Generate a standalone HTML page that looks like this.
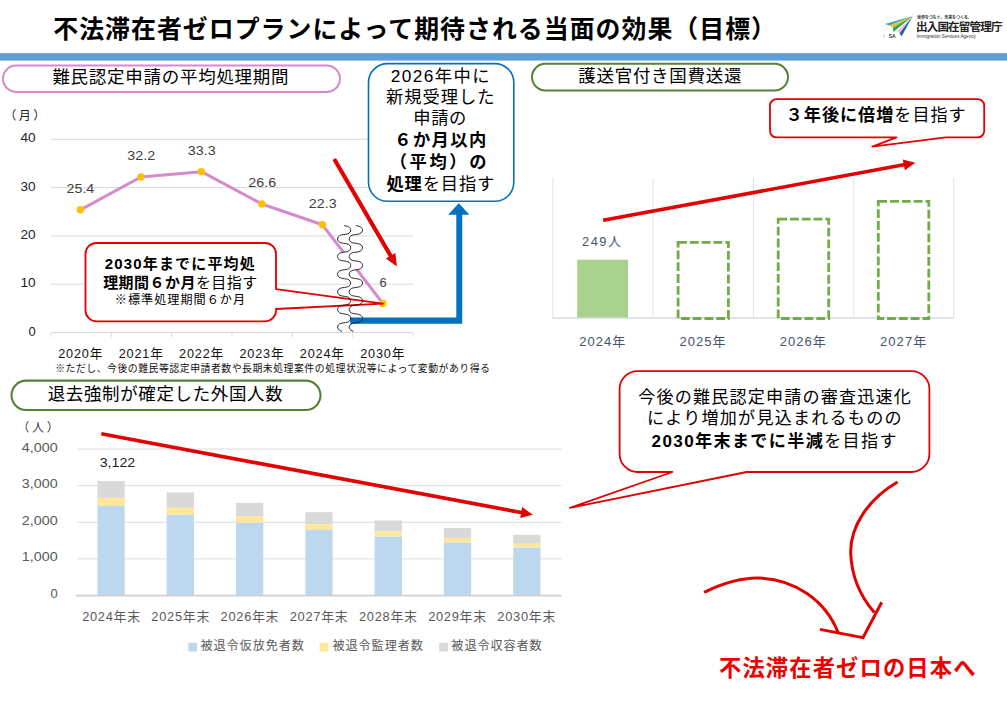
<!DOCTYPE html>
<html lang="ja">
<head>
<meta charset="utf-8">
<title>不法滞在者ゼロプランによって期待される当面の効果（目標）</title>
<style>
html,body{margin:0;padding:0;background:#fff}
body{width:1007px;height:711px;position:relative;overflow:hidden;font-family:"Liberation Sans","Noto Sans CJK JP",sans-serif}
svg{position:absolute;left:0;top:0;display:block}
svg text{font-family:"Liberation Sans","Noto Sans CJK JP",sans-serif}
.t{position:absolute;margin:0;padding:0;line-height:1;white-space:nowrap;overflow:visible;color:#000;font-family:"Liberation Sans","Noto Sans CJK JP",sans-serif}
.t b{font-weight:bold}
</style>
</head>
<body>
<svg width="1007" height="711" viewBox="0 0 1007 711">
<!-- shapes -->
<rect x="0" y="53.2" width="1007" height="7.4" fill="#5f9fd8"/>
<rect x="3" y="65.6" width="337" height="26.3" rx="13.15" ry="13.15" fill="#fff" stroke="#d68acb" stroke-width="2"/>
<rect x="532" y="63.8" width="256" height="26.6" rx="13.3" ry="13.3" fill="#fff" stroke="#548235" stroke-width="2"/>
<rect x="11.5" y="380.6" width="309" height="29.4" rx="14.7" ry="14.7" fill="#fff" stroke="#548235" stroke-width="2.1"/>
<path d="M51 139.3 H413" stroke="#d9d9d9" stroke-width="1" fill="none"/>
<path d="M51 187.6 H413" stroke="#d9d9d9" stroke-width="1" fill="none"/>
<path d="M51 235.9 H413" stroke="#d9d9d9" stroke-width="1" fill="none"/>
<path d="M51 284.2 H413" stroke="#d9d9d9" stroke-width="1" fill="none"/>
<path d="M51 332.5H413M50.9 332.5v4.5M111.26 332.5v4.5M171.62 332.5v4.5M231.98 332.5v4.5M292.34 332.5v4.5M352.7 332.5v4.5M413.06 332.5v4.5" stroke="#d9d9d9" stroke-width="1" fill="none"/>
<polyline points="80.4,209.82 140.9,176.97 201.4,171.66 261.9,204.02 322.4,224.79 382.9,303.52" fill="none" stroke="#d68acb" stroke-width="3" stroke-linejoin="round"/>
<circle cx="80.4" cy="209.82" r="3.7" fill="#ffc000"/>
<circle cx="140.9" cy="176.97" r="3.7" fill="#ffc000"/>
<circle cx="201.4" cy="171.66" r="3.7" fill="#ffc000"/>
<circle cx="261.9" cy="204.02" r="3.7" fill="#ffc000"/>
<circle cx="322.4" cy="224.79" r="3.7" fill="#ffc000"/>
<circle cx="382.9" cy="303.52" r="3.7" fill="#ffc000"/>
<polygon points="344.17,225.69 345.79,225.92 347.3,226.26 348.62,226.8 349.66,227.59 350.36,228.6 350.68,229.75 350.6,230.94 350.12,232.05 349.27,232.97 348.11,233.66 346.7,234.11 345.13,234.39 343.51,234.6 341.92,234.85 340.47,235.26 339.25,235.9 338.33,236.77 337.77,237.85 337.6,239.03 337.84,240.2 338.46,241.25 339.44,242.08 340.71,242.68 342.18,243.06 343.78,243.29 345.41,243.51 346.95,243.81 348.32,244.3 349.44,245.03 350.23,245.99 350.64,247.12 350.66,248.31 350.27,249.44 349.5,250.42 348.41,251.16 347.05,251.67 345.51,251.98 343.89,252.2 342.29,252.43 340.8,252.79 339.52,253.37 338.52,254.19 337.87,255.23 337.6,256.39 337.75,257.58 338.28,258.66 339.18,259.56 340.38,260.21 341.82,260.63 343.4,260.89 345.02,261.1 346.6,261.37 348.02,261.81 349.2,262.48 350.07,263.39 350.58,264.49 350.69,265.68 350.4,266.84 349.72,267.86 348.7,268.66 347.39,269.22 345.89,269.57 344.28,269.8 342.67,270.02 341.14,270.34 339.8,270.86 338.73,271.63 337.99,272.62 337.63,273.76 337.68,274.95 338.12,276.07 338.93,277.02 340.07,277.73 341.46,278.2 343.01,278.49 344.64,278.7 346.23,278.95 347.7,279.34 348.95,279.95 349.9,280.8 350.49,281.86 350.7,283.04 350.5,284.22 349.91,285.28 348.97,286.14 347.73,286.76 346.26,287.15 344.67,287.4 343.05,287.61 341.49,287.9 340.1,288.37 338.95,289.07 338.13,290.01 337.68,291.13 337.63,292.32 337.98,293.47 338.71,294.46 339.77,295.23 341.11,295.76 342.63,296.08 344.25,296.3 345.86,296.53 347.37,296.88 348.67,297.43 349.7,298.23 350.39,299.25 350.69,300.41 350.59,301.59 350.09,302.69 349.22,303.61 348.05,304.28 346.63,304.73 345.06,305 343.43,305.21 341.85,305.47 340.41,305.89 339.2,306.53 338.3,307.42 337.75,308.5 337.6,309.69 337.86,310.85 338.5,311.89 339.49,312.72 340.77,313.3 342.26,313.67 343.86,313.9 345.48,314.12 347.02,314.43 348.38,314.93 349.48,315.67 350.26,316.64 350.65,317.77 350.65,318.96 350.24,320.09 349.46,321.06 348.35,321.79 346.98,322.29 345.44,322.59 343.82,322.81 342.22,323.04 340.73,323.42 339.46,324.01 338.48,324.84 337.85,325.88 337.6,327.05 337.76,328.23 338.31,329.31 339.23,330.19 340.44,330.83 341.89,331.25 353.55,331.25 352.09,330.83 350.85,330.19 349.93,329.31 349.36,328.23 349.2,327.05 349.45,325.88 350.09,324.84 351.09,324.01 352.38,323.42 353.89,323.04 355.51,322.81 357.16,322.59 358.73,322.29 360.11,321.79 361.24,321.06 362.03,320.09 362.45,318.96 362.45,317.77 362.05,316.64 361.27,315.67 360.15,314.93 358.77,314.43 357.2,314.12 355.56,313.9 353.93,313.67 352.42,313.3 351.12,312.72 350.12,311.89 349.46,310.85 349.2,309.69 349.35,308.5 349.91,307.42 350.82,306.53 352.05,305.89 353.51,305.47 355.12,305.21 356.77,305 358.37,304.73 359.8,304.28 361,303.61 361.88,302.69 362.38,301.59 362.49,300.41 362.18,299.25 361.48,298.23 360.44,297.43 359.11,296.88 357.59,296.53 355.95,296.3 354.31,296.08 352.76,295.76 351.41,295.23 350.32,294.46 349.58,293.47 349.23,292.32 349.28,291.13 349.74,290.01 350.57,289.07 351.73,288.37 353.15,287.9 354.73,287.61 356.38,287.4 358,287.15 359.48,286.76 360.74,286.14 361.7,285.28 362.3,284.22 362.5,283.04 362.29,281.86 361.68,280.8 360.72,279.95 359.45,279.34 357.96,278.95 356.35,278.7 354.7,278.49 353.12,278.2 351.71,277.73 350.55,277.02 349.73,276.07 349.28,274.95 349.23,273.76 349.59,272.62 350.34,271.63 351.43,270.86 352.79,270.34 354.34,270.02 355.98,269.8 357.62,269.57 359.14,269.22 360.47,268.66 361.5,267.86 362.19,266.84 362.49,265.68 362.38,264.49 361.86,263.39 360.98,262.48 359.78,261.81 358.33,261.37 356.74,261.1 355.09,260.89 353.48,260.63 352.02,260.21 350.8,259.56 349.89,258.66 349.35,257.58 349.2,256.39 349.47,255.23 350.13,254.19 351.15,253.37 352.45,252.79 353.96,252.43 355.59,252.2 357.24,251.98 358.8,251.67 360.17,251.16 361.29,250.42 362.06,249.44 362.46,248.31 362.44,247.12 362.02,245.99 361.22,245.03 360.09,244.3 358.7,243.81 357.13,243.51 355.48,243.29 353.85,243.06 352.35,242.68 351.07,242.08 350.08,241.25 349.44,240.2 349.2,239.03 349.37,237.85 349.94,236.77 350.87,235.9 352.12,235.26 353.59,234.85 355.2,234.6 356.85,234.39 358.44,234.11 359.87,233.66 361.05,232.97 361.91,232.05 362.4,230.94 362.48,229.75 362.16,228.6 361.44,227.59 360.38,226.8 359.05,226.26 357.51,225.92 355.87,225.69" fill="#fff"/>
<path d="M350.2 317.6H456.3V214.8H448.1L458.8 203.3L469.4 214.8H462.2V323.7H350.2Z" fill="#0070c0"/>
<path d="M96.5 243H265A11 11 0 0 1 276 254V289.2L383 303.6L276 309V310.4A11 11 0 0 1 265 321.4H96.5A11 11 0 0 1 85.5 310.4V254A11 11 0 0 1 96.5 243Z" fill="#fff" stroke="#e30000" stroke-width="1.8" stroke-linejoin="round"/>
<polyline points="344.17,225.69 345.79,225.92 347.3,226.26 348.62,226.8 349.66,227.59 350.36,228.6 350.68,229.75 350.6,230.94 350.12,232.05 349.27,232.97 348.11,233.66 346.7,234.11 345.13,234.39 343.51,234.6 341.92,234.85 340.47,235.26 339.25,235.9 338.33,236.77 337.77,237.85 337.6,239.03 337.84,240.2 338.46,241.25 339.44,242.08 340.71,242.68 342.18,243.06 343.78,243.29 345.41,243.51 346.95,243.81 348.32,244.3 349.44,245.03 350.23,245.99 350.64,247.12 350.66,248.31 350.27,249.44 349.5,250.42 348.41,251.16 347.05,251.67 345.51,251.98 343.89,252.2 342.29,252.43 340.8,252.79 339.52,253.37 338.52,254.19 337.87,255.23 337.6,256.39 337.75,257.58 338.28,258.66 339.18,259.56 340.38,260.21 341.82,260.63 343.4,260.89 345.02,261.1 346.6,261.37 348.02,261.81 349.2,262.48 350.07,263.39 350.58,264.49 350.69,265.68 350.4,266.84 349.72,267.86 348.7,268.66 347.39,269.22 345.89,269.57 344.28,269.8 342.67,270.02 341.14,270.34 339.8,270.86 338.73,271.63 337.99,272.62 337.63,273.76 337.68,274.95 338.12,276.07 338.93,277.02 340.07,277.73 341.46,278.2 343.01,278.49 344.64,278.7 346.23,278.95 347.7,279.34 348.95,279.95 349.9,280.8 350.49,281.86 350.7,283.04 350.5,284.22 349.91,285.28 348.97,286.14 347.73,286.76 346.26,287.15 344.67,287.4 343.05,287.61 341.49,287.9 340.1,288.37 338.95,289.07 338.13,290.01 337.68,291.13 337.63,292.32 337.98,293.47 338.71,294.46 339.77,295.23 341.11,295.76 342.63,296.08 344.25,296.3 345.86,296.53 347.37,296.88 348.67,297.43 349.7,298.23 350.39,299.25 350.69,300.41 350.59,301.59 350.09,302.69 349.22,303.61 348.05,304.28 346.63,304.73 345.06,305 343.43,305.21 341.85,305.47 340.41,305.89 339.2,306.53 338.3,307.42 337.75,308.5 337.6,309.69 337.86,310.85 338.5,311.89 339.49,312.72 340.77,313.3 342.26,313.67 343.86,313.9 345.48,314.12 347.02,314.43 348.38,314.93 349.48,315.67 350.26,316.64 350.65,317.77 350.65,318.96 350.24,320.09 349.46,321.06 348.35,321.79 346.98,322.29 345.44,322.59 343.82,322.81 342.22,323.04 340.73,323.42 339.46,324.01 338.48,324.84 337.85,325.88 337.6,327.05 337.76,328.23 338.31,329.31 339.23,330.19 340.44,330.83 341.89,331.25" fill="none" stroke="#111" stroke-width="0.9"/>
<polyline points="355.87,225.69 357.51,225.92 359.05,226.26 360.38,226.8 361.44,227.59 362.16,228.6 362.48,229.75 362.4,230.94 361.91,232.05 361.05,232.97 359.87,233.66 358.44,234.11 356.85,234.39 355.2,234.6 353.59,234.85 352.12,235.26 350.87,235.9 349.94,236.77 349.37,237.85 349.2,239.03 349.44,240.2 350.08,241.25 351.07,242.08 352.35,242.68 353.85,243.06 355.48,243.29 357.13,243.51 358.7,243.81 360.09,244.3 361.22,245.03 362.02,245.99 362.44,247.12 362.46,248.31 362.06,249.44 361.29,250.42 360.17,251.16 358.8,251.67 357.24,251.98 355.59,252.2 353.96,252.43 352.45,252.79 351.15,253.37 350.13,254.19 349.47,255.23 349.2,256.39 349.35,257.58 349.89,258.66 350.8,259.56 352.02,260.21 353.48,260.63 355.09,260.89 356.74,261.1 358.33,261.37 359.78,261.81 360.98,262.48 361.86,263.39 362.38,264.49 362.49,265.68 362.19,266.84 361.5,267.86 360.47,268.66 359.14,269.22 357.62,269.57 355.98,269.8 354.34,270.02 352.79,270.34 351.43,270.86 350.34,271.63 349.59,272.62 349.23,273.76 349.28,274.95 349.73,276.07 350.55,277.02 351.71,277.73 353.12,278.2 354.7,278.49 356.35,278.7 357.96,278.95 359.45,279.34 360.72,279.95 361.68,280.8 362.29,281.86 362.5,283.04 362.3,284.22 361.7,285.28 360.74,286.14 359.48,286.76 358,287.15 356.38,287.4 354.73,287.61 353.15,287.9 351.73,288.37 350.57,289.07 349.74,290.01 349.28,291.13 349.23,292.32 349.58,293.47 350.32,294.46 351.41,295.23 352.76,295.76 354.31,296.08 355.95,296.3 357.59,296.53 359.11,296.88 360.44,297.43 361.48,298.23 362.18,299.25 362.49,300.41 362.38,301.59 361.88,302.69 361,303.61 359.8,304.28 358.37,304.73 356.77,305 355.12,305.21 353.51,305.47 352.05,305.89 350.82,306.53 349.91,307.42 349.35,308.5 349.2,309.69 349.46,310.85 350.12,311.89 351.12,312.72 352.42,313.3 353.93,313.67 355.56,313.9 357.2,314.12 358.77,314.43 360.15,314.93 361.27,315.67 362.05,316.64 362.45,317.77 362.45,318.96 362.03,320.09 361.24,321.06 360.11,321.79 358.73,322.29 357.16,322.59 355.51,322.81 353.89,323.04 352.38,323.42 351.09,324.01 350.09,324.84 349.45,325.88 349.2,327.05 349.36,328.23 349.93,329.31 350.85,330.19 352.09,330.83 353.55,331.25" fill="none" stroke="#111" stroke-width="0.9"/>
<polygon points="332.43,160.03 388.84,256.83 385.85,258.57 396.9,266.6 395.36,253.03 392.38,254.77 335.97,157.97" fill="#e30000"/>
<rect x="368.5" y="63.6" width="145.3" height="137.7" rx="19" ry="19" fill="#fff" stroke="#0070c0" stroke-width="1.6"/>
<path d="M552.8 178V318" stroke="#dfe3e8" stroke-width="1" fill="none"/>
<path d="M653 178V318" stroke="#dfe3e8" stroke-width="1" fill="none"/>
<path d="M753.4 178V318" stroke="#dfe3e8" stroke-width="1" fill="none"/>
<path d="M853.7 178V318" stroke="#dfe3e8" stroke-width="1" fill="none"/>
<path d="M953.7 178V318" stroke="#dfe3e8" stroke-width="1" fill="none"/>
<path d="M552.8 318H953.7" stroke="#d5dae1" stroke-width="1.5" fill="none"/>
<rect x="577.2" y="259.7" width="50.8" height="57.8" fill="#a9d18e"/>
<rect x="678.1" y="242.3" width="50.3" height="76.2" fill="none" stroke="#70ad47" stroke-width="2.8" stroke-dasharray="8.8 3"/>
<rect x="778.2" y="219.2" width="50.5" height="99.3" fill="none" stroke="#70ad47" stroke-width="2.8" stroke-dasharray="8.8 3"/>
<rect x="878.3" y="201.3" width="50.5" height="117.2" fill="none" stroke="#70ad47" stroke-width="2.8" stroke-dasharray="8.8 3"/>
<polygon points="603.53,222.07 904.12,166.61 904.79,170.25 915.4,162.7 902.8,159.43 903.47,163.07 602.87,218.53" fill="#e30000"/>
<path d="M776.5 99.1H977.7A6.5 6.5 0 0 1 984.2 105.6V130.9A6.5 6.5 0 0 1 977.7 137.4H945.7L872.4 146.6L896.5 137.4H776.5A6.5 6.5 0 0 1 770 130.9V105.6A6.5 6.5 0 0 1 776.5 99.1Z" fill="#fff" stroke="#e30000" stroke-width="1.8" stroke-linejoin="round"/>
<path d="M77 449.02H561.4" stroke="#dcdcdc" stroke-width="1" fill="none"/>
<path d="M77 485.64H561.4" stroke="#dcdcdc" stroke-width="1" fill="none"/>
<path d="M77 522.26H561.4" stroke="#dcdcdc" stroke-width="1" fill="none"/>
<path d="M77 558.88H561.4" stroke="#dcdcdc" stroke-width="1" fill="none"/>
<rect x="97.4" y="481" width="27.3" height="16.9" fill="#d9d9d9"/>
<rect x="97.4" y="497.9" width="27.3" height="7.9" fill="#ffe699"/>
<rect x="97.4" y="505.8" width="27.3" height="89.7" fill="#bdd7ee"/>
<rect x="166.7" y="492.4" width="27.3" height="15.4" fill="#d9d9d9"/>
<rect x="166.7" y="507.8" width="27.3" height="7" fill="#ffe699"/>
<rect x="166.7" y="514.8" width="27.3" height="80.7" fill="#bdd7ee"/>
<rect x="236" y="502.9" width="27.3" height="13.6" fill="#d9d9d9"/>
<rect x="236" y="516.5" width="27.3" height="6.4" fill="#ffe699"/>
<rect x="236" y="522.9" width="27.3" height="72.6" fill="#bdd7ee"/>
<rect x="305.3" y="512.2" width="27.3" height="12.2" fill="#d9d9d9"/>
<rect x="305.3" y="524.4" width="27.3" height="5.4" fill="#ffe699"/>
<rect x="305.3" y="529.8" width="27.3" height="65.7" fill="#bdd7ee"/>
<rect x="374.6" y="520.5" width="27.3" height="11" fill="#d9d9d9"/>
<rect x="374.6" y="531.5" width="27.3" height="5.1" fill="#ffe699"/>
<rect x="374.6" y="536.6" width="27.3" height="58.9" fill="#bdd7ee"/>
<rect x="443.9" y="528" width="27.3" height="10" fill="#d9d9d9"/>
<rect x="443.9" y="538" width="27.3" height="4.6" fill="#ffe699"/>
<rect x="443.9" y="542.6" width="27.3" height="52.9" fill="#bdd7ee"/>
<rect x="513.2" y="534.8" width="27.3" height="8.9" fill="#d9d9d9"/>
<rect x="513.2" y="543.7" width="27.3" height="3.9" fill="#ffe699"/>
<rect x="513.2" y="547.6" width="27.3" height="47.9" fill="#bdd7ee"/>
<path d="M76.2 595.6H561.4" stroke="#d0d0d0" stroke-width="1.8" fill="none"/>
<rect x="188.3" y="642.8" width="8.7" height="8.7" fill="#bdd7ee"/>
<rect x="319.6" y="642.8" width="8.7" height="8.7" fill="#ffe699"/>
<rect x="439.2" y="642.8" width="8.7" height="8.7" fill="#d9d9d9"/>
<polygon points="100.97,435.57 520.87,514.29 520.19,517.93 532.8,514.7 522.22,507.12 521.53,510.76 101.63,432.03" fill="#e30000"/>
<path d="M637.6 371.1H911.4A18 18 0 0 1 929.4 389.1V454A18 18 0 0 1 911.4 472H746.7L569.9 507.8L672.4 472H637.6A18 18 0 0 1 619.6 454V389.1A18 18 0 0 1 637.6 371.1Z" fill="#fff" stroke="#e30000" stroke-width="1.8" stroke-linejoin="round"/>
<path d="M897.6 482C868 499 850 527 850.7 553C851.5 578 861 597 874.3 612.5" fill="none" stroke="#e30000" stroke-width="3"/>
<path d="M704.1 592.4C722 583.5 740 578 757.5 578C795 578.5 826 601 838.3 633" fill="none" stroke="#e30000" stroke-width="3"/>
<path d="M881.7 602.3L863 637.6L819.9 629.4" fill="none" stroke="#e30000" stroke-width="3"/>
<g><polygon points="884.9,24.1 912.7,16 889.7,25.6" fill="#3ba3d0"/><polygon points="889.9,25.5 912.7,16 892.8,27.8" fill="#e5c02a"/><polygon points="892.8,27.8 912.7,16 893.4,32.1" fill="#2fa84f"/><polygon points="897.8,31 912.7,16 899.2,32.5" fill="#f4b6d0"/><polygon points="899.4,33.3 912.7,16 901.8,36.2" fill="#2f5fb0"/></g>
<!-- numeric labels -->
<text x="20.4" y="142.4" font-size="13" fill="#222" textLength="15.2" lengthAdjust="spacingAndGlyphs">40</text>
<text x="20.4" y="190.7" font-size="13" fill="#222" textLength="15.2" lengthAdjust="spacingAndGlyphs">30</text>
<text x="20.4" y="239" font-size="13" fill="#222" textLength="15.2" lengthAdjust="spacingAndGlyphs">20</text>
<text x="20.4" y="287.3" font-size="13" fill="#222" textLength="15.2" lengthAdjust="spacingAndGlyphs">10</text>
<text x="28.4" y="335.6" font-size="13" fill="#222" textLength="7.2" lengthAdjust="spacingAndGlyphs">0</text>
<text x="66.5" y="192.92" font-size="13.2" fill="#404040" textLength="27.8" lengthAdjust="spacingAndGlyphs">25.4</text>
<text x="127.3" y="160.07" font-size="13.2" fill="#404040" textLength="27.8" lengthAdjust="spacingAndGlyphs">32.2</text>
<text x="187.8" y="154.76" font-size="13.2" fill="#404040" textLength="27.8" lengthAdjust="spacingAndGlyphs">33.3</text>
<text x="248.3" y="187.12" font-size="13.2" fill="#404040" textLength="27.8" lengthAdjust="spacingAndGlyphs">26.6</text>
<text x="308.8" y="207.89" font-size="13.2" fill="#404040" textLength="27.8" lengthAdjust="spacingAndGlyphs">22.3</text>
<text x="379.6" y="286.62" font-size="13.2" fill="#404040" textLength="7.2" lengthAdjust="spacingAndGlyphs">6</text>
<text x="21.8" y="451.62" font-size="13.2" fill="#595959" textLength="35.9" lengthAdjust="spacingAndGlyphs">4,000</text>
<text x="21.8" y="488.24" font-size="13.2" fill="#595959" textLength="35.9" lengthAdjust="spacingAndGlyphs">3,000</text>
<text x="21.8" y="524.86" font-size="13.2" fill="#595959" textLength="35.9" lengthAdjust="spacingAndGlyphs">2,000</text>
<text x="21.8" y="561.48" font-size="13.2" fill="#595959" textLength="35.9" lengthAdjust="spacingAndGlyphs">1,000</text>
<text x="50.5" y="598.1" font-size="13.2" fill="#595959" textLength="7.2" lengthAdjust="spacingAndGlyphs">0</text>
<text x="99.7" y="467.2" font-size="13.4" fill="#222" textLength="35.6" lengthAdjust="spacingAndGlyphs">3,122</text>
</svg>
<!-- text layer -->
<div class="t" style="left:53.24px;top:17.1px;font-size:24.9px;width:725.94px;letter-spacing:1.03px;color:#000"><b>不法滞在者ゼロプランによって期待される当面の効果（目標）</b></div>
<div class="t" style="left:52.4px;top:69.35px;font-size:17.47px;width:237.13px;letter-spacing:0.77px;color:#000">難民認定申請の平均処理期間</div>
<div class="t" style="left:578.31px;top:67.65px;font-size:17.47px;width:163.98px;letter-spacing:0.75px;color:#000">護送官付き国費送還</div>
<div class="t" style="left:47.75px;top:385.65px;font-size:17.47px;width:235.8px;letter-spacing:0.67px;color:#000">退去強制が確定した外国人数</div>
<div class="t" style="left:4.24px;top:110.36px;font-size:12.1px;width:43.42px;letter-spacing:2.37px;color:#222">（月）</div>
<div class="t" style="left:17.18px;top:421.56px;font-size:12.1px;width:44.53px;letter-spacing:2.74px;color:#404040">（人）</div>
<div class="t" style="left:58.24px;top:347.85px;font-size:12.67px;width:45px;letter-spacing:0.84px;color:#111">2020年</div>
<div class="t" style="left:118.64px;top:347.85px;font-size:12.67px;width:45px;letter-spacing:0.84px;color:#111">2021年</div>
<div class="t" style="left:179.04px;top:347.85px;font-size:12.67px;width:45px;letter-spacing:0.84px;color:#111">2022年</div>
<div class="t" style="left:239.44px;top:347.85px;font-size:12.67px;width:45px;letter-spacing:0.84px;color:#111">2023年</div>
<div class="t" style="left:299.84px;top:347.85px;font-size:12.67px;width:45px;letter-spacing:0.84px;color:#111">2024年</div>
<div class="t" style="left:360.24px;top:347.85px;font-size:12.67px;width:45px;letter-spacing:0.84px;color:#111">2030年</div>
<div class="t" style="left:55.14px;top:364.44px;font-size:9.89px;width:436.65px;letter-spacing:0.51px;color:#111">※ただし、今後の難民等認定申請者数や長期未処理案件の処理状況等によって変動があり得る</div>
<div class="t" style="left:104.73px;top:255.88px;font-size:14.98px;width:151.34px;letter-spacing:1.19px;color:#000"><b>2030年までに平均処</b></div>
<div class="t" style="left:103.13px;top:274.88px;font-size:14.98px;width:154.67px;letter-spacing:0.49px;color:#000"><b>理期間６か月</b>を目指す</div>
<div class="t" style="left:114.86px;top:294.36px;font-size:12.1px;width:131.29px;letter-spacing:1.03px;color:#000">※標準処理期間６か月</div>
<div class="t" style="left:390.83px;top:67.51px;font-size:17.28px;width:100.1px;letter-spacing:1.4px;color:#000">2026年中に</div>
<div class="t" style="left:385.99px;top:89.34px;font-size:17.28px;width:109.69px;letter-spacing:1px;color:#000">新規受理した</div>
<div class="t" style="left:413.29px;top:110.43px;font-size:17.28px;width:53.76px;letter-spacing:0.64px;color:#000">申請の</div>
<div class="t" style="left:394.23px;top:132.4px;font-size:17.28px;width:93.46px;letter-spacing:1.41px;color:#000"><b>６か月以内</b></div>
<div class="t" style="left:389.71px;top:154.27px;font-size:17.28px;width:99.44px;letter-spacing:2.61px;color:#000"><b>（平均）の</b></div>
<div class="t" style="left:386.39px;top:175.53px;font-size:17.28px;width:108.9px;letter-spacing:0.87px;color:#000"><b>処理</b>を目指す</div>
<div class="t" style="left:785.7px;top:107.29px;font-size:17.09px;width:181.09px;letter-spacing:1.02px;color:#000"><b>３年後に倍増</b>を目指す</div>
<div class="t" style="left:581.99px;top:235.78px;font-size:12.86px;width:40.31px;letter-spacing:1.5px;color:#44546a">249人</div>
<div class="t" style="left:579.22px;top:334.9px;font-size:13.06px;width:47.06px;letter-spacing:1px;color:#44546a">2024年</div>
<div class="t" style="left:679.52px;top:334.9px;font-size:13.06px;width:47.06px;letter-spacing:1px;color:#44546a">2025年</div>
<div class="t" style="left:779.82px;top:334.9px;font-size:13.06px;width:47.06px;letter-spacing:1px;color:#44546a">2026年</div>
<div class="t" style="left:880.12px;top:334.9px;font-size:13.06px;width:47.06px;letter-spacing:1px;color:#44546a">2027年</div>
<div class="t" style="left:82.14px;top:610.88px;font-size:12.86px;width:58.61px;letter-spacing:0.72px;color:#595959">2024年末</div>
<div class="t" style="left:151.34px;top:610.88px;font-size:12.86px;width:58.61px;letter-spacing:0.72px;color:#595959">2025年末</div>
<div class="t" style="left:220.54px;top:610.88px;font-size:12.86px;width:58.61px;letter-spacing:0.72px;color:#595959">2026年末</div>
<div class="t" style="left:289.74px;top:610.88px;font-size:12.86px;width:58.61px;letter-spacing:0.72px;color:#595959">2027年末</div>
<div class="t" style="left:358.94px;top:610.88px;font-size:12.86px;width:58.61px;letter-spacing:0.72px;color:#595959">2028年末</div>
<div class="t" style="left:428.14px;top:610.88px;font-size:12.86px;width:58.61px;letter-spacing:0.72px;color:#595959">2029年末</div>
<div class="t" style="left:497.34px;top:610.88px;font-size:12.86px;width:58.61px;letter-spacing:0.72px;color:#595959">2030年末</div>
<div class="t" style="left:200.47px;top:640.16px;font-size:12.1px;width:104.42px;letter-spacing:0.95px;color:#595959">被退令仮放免者数</div>
<div class="t" style="left:332.47px;top:640.16px;font-size:12.1px;width:91.32px;letter-spacing:0.95px;color:#595959">被退令監理者数</div>
<div class="t" style="left:451.37px;top:640.16px;font-size:12.1px;width:91.32px;letter-spacing:0.95px;color:#595959">被退令収容者数</div>
<div class="t" style="left:638.16px;top:389.21px;font-size:17.09px;width:273.94px;letter-spacing:1.17px;color:#000">今後の難民認定申請の審査迅速化</div>
<div class="t" style="left:647.03px;top:409.98px;font-size:17.09px;width:256.25px;letter-spacing:1.21px;color:#000">により増加が見込まれるものの</div>
<div class="t" style="left:651.55px;top:432.92px;font-size:17.09px;width:246.56px;letter-spacing:1.37px;color:#000"><b>2030年末までに半減</b>を目指す</div>
<div class="t" style="left:719.03px;top:658.48px;font-size:22.3px;width:257.67px;letter-spacing:1.12px;color:#ec0000"><b>不法滞在者ゼロの日本へ</b></div>
<div class="t" style="left:917.06px;top:15.9px;font-size:4.1px;width:54.56px;letter-spacing:-0.2px;color:#333"><b>世界をつなぐ。未来をつくる。</b></div>
<div class="t" style="left:916.02px;top:22.24px;font-size:11.59px;width:85.71px;letter-spacing:-0.88px;color:#222"><b>出入国在留管理庁</b></div>
<div class="t" style="left:916.56px;top:35.25px;font-size:4.6px;width:62.9px;color:#333">Immigration Services Agency</div>
<div class="t" style="left:883.31px;top:34.41px;font-size:5.1px;width:2.87px;color:#333"><span style="color:#aaa;margin-right:4px">I</span><b>SA</b></div>
</body>
</html>
